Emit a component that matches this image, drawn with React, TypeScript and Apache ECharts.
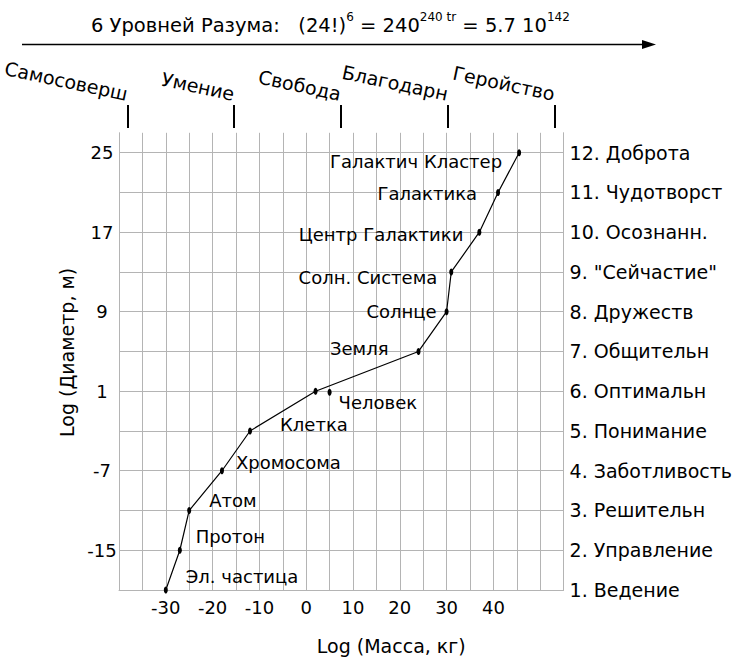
import React, { useEffect, useRef } from 'react';
import * as echarts from 'echarts';

// ---- data ----
const massLog = [-30, -27, -25, -18, -12, 2, 24, 30, 31, 37, 41, 45.5];
const diameterLog = [-19, -15, -11, -7, -3, 1, 5, 9, 13, 17, 21, 25];
const objectNames = [
  'Эл. частица', 'Протон', 'Атом', 'Хромосома', 'Клетка', '',
  'Земля', 'Солнце', 'Солн. Система', 'Центр Галактики', 'Галактика', 'Галактич Кластер',
];
const humanName = 'Человек';
const humanMass = 5;
const humanDiameter = 0.9;

const massTickLabels = [-30, -20, -10, 0, 10, 20, 30, 40];
const diameterTickLabels = [-15, -7, 1, 9, 17, 25];
const levelValues = [-19, -15, -11, -7, -3, 1, 5, 9, 13, 17, 21, 25];
const levelLabels = [
  '1. Ведение', '2. Управление', '3. Решительн', '4. Заботливость', '5. Понимание',
  '6. Оптимальн', '7. Общительн', '8. Дружеств', '9. "Сейчастие"', '10. Осознанн.',
  '11. Чудотворст', '12. Доброта',
];
const virtueLabels = ['Самосоверш', 'Умение', 'Свобода', 'Благодарн', 'Геройство'];
const gridLevels = [-15, -11, -7, -3, 1, 5, 9, 13, 17, 21, 25];

// ---- styles (label placement per point) ----
const labelPlacement: [string, number, number][] = [
  ['right', 18, -14],
  ['right', 14, -14],
  ['right', 18, -10],
  ['right', 12, -8],
  ['right', 28, -6],
  ['right', 0, 0],
  ['left', -28, -3],
  ['left', -8, 0],
  ['left', -12, 6],
  ['left', -14, 2],
  ['left', -19, 1],
  ['left', -15, 9],
];

export default function App() {
  const ref = useRef<HTMLDivElement>(null);
  useEffect(() => {
    if (!ref.current) return;
    const chart = echarts.init(ref.current, null, { renderer: 'svg' });
    const font = '"DejaVu Sans", "Liberation Sans", Arial, sans-serif';
    const gridColor = '#b4b4b4';
    const fs = 18;

    const lineData = massLog.map((x, i) => ({
      name: objectNames[i],
      value: [x, diameterLog[i]],
      label: {
        position: labelPlacement[i][0] as any,
        offset: [labelPlacement[i][1], labelPlacement[i][2]],
      },
    }));

    const option: any = {
      animation: false,
      backgroundColor: '#fff',
      textStyle: { fontFamily: font, color: '#000' },
      title: {
        left: 86,
        top: 6,
        text: '{b|6 Уровней Разума:   (24!)}{s|6}{b| = 240}{s|240 tr}{b| = 5.7 10}{s|142}',
        textStyle: {
          fontWeight: 'normal',
          rich: {
            b: { fontSize: 19.5, fontFamily: font, color: '#000', lineHeight: 28, fontWeight: 'normal' },
            s: { fontSize: 12, fontFamily: font, color: '#000', lineHeight: 14, verticalAlign: 'top', fontWeight: 'normal' },
          },
        },
      },
      graphic: [
        {
          type: 'line',
          shape: { x1: 22, y1: 44.5, x2: 648, y2: 44.5 },
          style: { stroke: '#000', lineWidth: 1.5 },
        },
        {
          type: 'polygon',
          shape: { points: [[642, 40], [656, 44.5], [642, 49]] },
          style: { fill: '#000' },
        },
      ],
      grid: [
        { left: 119, right: 170, top: 132.8, bottom: 75 },
        { left: 123.5, right: 180.5, top: 128, height: 20 },
      ],
      xAxis: [
        {
          type: 'value',
          gridIndex: 0,
          min: -40,
          max: 55,
          interval: 5,
          name: 'Log (Масса, кг)',
          nameLocation: 'middle',
          nameGap: 46,
          nameTextStyle: { fontSize: 19, color: '#000', fontFamily: font, padding: [0, 0, 0, 100] },
          axisLine: { show: true, onZero: false, lineStyle: { color: gridColor, width: 1 } },
          axisTick: { show: false },
          splitLine: { show: true, lineStyle: { color: gridColor, width: 1 } },
          axisLabel: {
            fontSize: fs,
            color: '#000',
            margin: 8,
            fontFamily: font,
            formatter: (v: number) => (massTickLabels.includes(Math.round(v)) ? String(Math.round(v)) : ''),
          },
        },
        {
          type: 'category',
          gridIndex: 1,
          position: 'top',
          data: virtueLabels,
          boundaryGap: false,
          axisLine: { show: false, onZero: false },
          axisTick: { show: true, inside: false, length: 23, interval: 0, lineStyle: { color: '#000', width: 2 } },
          axisLabel: { rotate: 12, margin: 34, fontSize: 19, color: '#000', interval: 0, fontFamily: font },
          splitLine: { show: false },
        },
      ],
      yAxis: [
        {
          type: 'value',
          gridIndex: 0,
          min: -19,
          max: 27,
          interval: 1,
          name: 'Log (Диаметр, м)',
          nameLocation: 'middle',
          nameGap: 41,
          nameRotate: 90,
          nameTextStyle: { fontSize: 19, color: '#000', fontFamily: font, padding: [0, 0, 0, 18] },
          axisLine: { show: true, onZero: false, lineStyle: { color: gridColor, width: 1 } },
          axisTick: { show: false },
          splitLine: { show: false },
          axisLabel: {
            fontSize: fs,
            color: '#000',
            align: 'center',
            margin: 17,
            fontFamily: font,
            formatter: (v: number) => (diameterTickLabels.includes(Math.round(v)) ? String(Math.round(v)) : ''),
          },
        },
        {
          type: 'value',
          gridIndex: 0,
          position: 'right',
          min: -19,
          max: 27,
          interval: 1,
          axisLine: { show: true, onZero: false, lineStyle: { color: gridColor, width: 1 } },
          axisTick: { show: false },
          splitLine: { show: false },
          axisLabel: {
            fontSize: 19,
            color: '#000',
            margin: 6,
            fontFamily: font,
            formatter: (v: number) => {
              const idx = levelValues.indexOf(Math.round(v));
              return idx >= 0 ? levelLabels[idx] : '';
            },
          },
        },
        { type: 'value', gridIndex: 1, show: false },
      ],
      series: [
        {
          type: 'line',
          xAxisIndex: 0,
          yAxisIndex: 0,
          z: 3,
          data: lineData,
          symbol: 'circle',
          symbolSize: [4, 7],
          showSymbol: true,
          lineStyle: { color: '#000', width: 1.2 },
          itemStyle: { color: '#000' },
          label: {
            show: true,
            formatter: '{b}',
            distance: 0,
            fontSize: fs,
            color: '#000',
            fontFamily: font,
          },
          markLine: {
            silent: true,
            z: 1,
            symbol: ['none', 'none'],
            label: { show: false },
            lineStyle: { color: gridColor, type: 'solid', width: 1 },
            data: gridLevels.map((v) => ({ yAxis: v })),
          },
        },
        {
          type: 'scatter',
          xAxisIndex: 0,
          yAxisIndex: 0,
          z: 3,
          data: [{ name: humanName, value: [humanMass, humanDiameter] }],
          symbol: 'circle',
          symbolSize: [4, 7],
          itemStyle: { color: '#000', opacity: 1 },
          label: {
            show: true,
            formatter: '{b}',
            position: 'right',
            distance: 0,
            offset: [7, 10],
            fontSize: fs,
            color: '#000',
            fontFamily: font,
          },
        },
      ],
    };
    chart.setOption(option);
    return () => chart.dispose();
  }, []);
  return (
    <div
      ref={ref}
      style={{ position: 'fixed', left: 0, top: 0, width: 735, height: 665, background: '#fff' }}
    />
  );
}
